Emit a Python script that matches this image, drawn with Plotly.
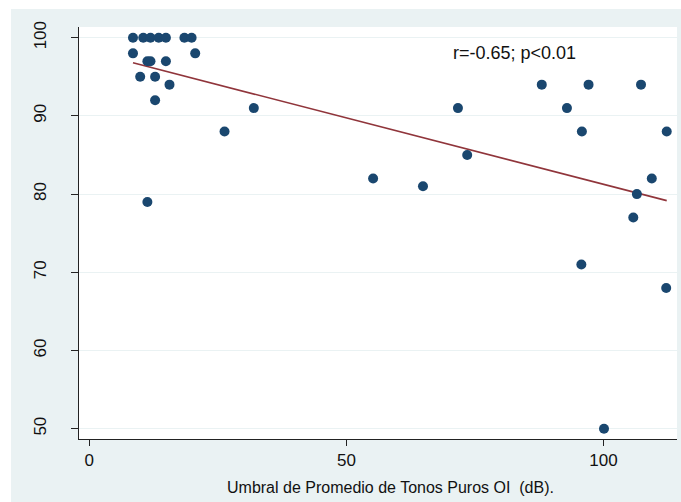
import numpy as np
import plotly.graph_objects as go

# Umbral de Promedio de Tonos Puros OI (dB)
umbral_db = [8.5, 10.5, 11.9, 13.5, 14.9, 18.5, 19.9,
             8.5, 20.6,
             11.3, 11.9, 14.9,
             9.9, 12.8,
             15.6, 12.8, 32.0, 26.3, 11.3,
             55.2, 64.9, 71.7, 73.5,
             88.0, 97.1, 107.3, 92.9, 95.8, 112.3, 109.4, 106.5, 105.8, 95.7, 112.2, 100.1]
puntaje = [100, 100, 100, 100, 100, 100, 100,
           98, 98,
           97, 97, 97,
           95, 95,
           94, 92, 91, 88, 79,
           82, 81, 91, 85,
           94, 94, 94, 91, 88, 88, 82, 80, 77, 71, 68, 50]

x_ticks = [0, 50, 100]
y_ticks = [50, 60, 70, 80, 90, 100]
stat_text = "r=-0.65; p<0.01"
x_title = "Umbral de Promedio de Tonos Puros OI\u00a0\u00a0(dB)."

xa = np.array(umbral_db, dtype=float)
ya = np.array(puntaje, dtype=float)
slope, intercept = np.polyfit(xa, ya, 1)
fit_x = [xa.min(), xa.max()]
fit_y = [intercept + slope * v for v in fit_x]

W, H = 681, 502
ml, mr, mt, mb = 79, 4, 27, 63
pw, ph = W - ml - mr, H - mt - mb

def px2paper_x(px):
    return (px - ml) / pw

def px2paper_y(py):
    return (H - mb - py) / ph

BG = "#EAF2F3"
FONT = "Liberation Sans, Arial, sans-serif"

fig = go.Figure()
fig.add_trace(go.Scatter(
    x=fit_x, y=fit_y, mode="lines",
    line=dict(color="#90353B", width=1.6),
    hoverinfo="skip", showlegend=False))
fig.add_trace(go.Scatter(
    x=umbral_db, y=puntaje, mode="markers",
    marker=dict(color="#1A476F", size=10, line=dict(width=0)),
    showlegend=False))

fig.update_layout(
    width=W, height=H,
    margin=dict(l=ml, r=mr, t=mt, b=mb, pad=0),
    paper_bgcolor=BG, plot_bgcolor="white",
    font=dict(family=FONT, size=17, color="#111"),
    showlegend=False,
    xaxis=dict(range=[-2.0, 114.3], tickvals=x_ticks, ticks="outside",
               ticklen=6, tickwidth=1, tickcolor="#222",
               showline=True, linecolor="#222", linewidth=1,
               showgrid=False, zeroline=False, mirror=False,
               tickfont=dict(size=17, family=FONT, color="#111")),
    yaxis=dict(range=[48.68, 101.37], tickvals=y_ticks, ticks="outside",
               ticklen=7, tickwidth=1, tickcolor="#222", tickangle=-90,
               ticklabelstandoff=18,
               showline=True, linecolor="#222", linewidth=1,
               showgrid=True, gridcolor=BG, gridwidth=1.2,
               zeroline=False, mirror=False,
               tickfont=dict(size=17, family=FONT, color="#111")),
    shapes=[
        dict(type="rect", xref="paper", yref="paper",
             x0=-0.5, x1=1.5, y0=px2paper_y(9), y1=1.5,
             fillcolor="white", line=dict(width=0), layer="below"),
        dict(type="rect", xref="paper", yref="paper",
             x0=-0.5, x1=px2paper_x(11), y0=-0.5, y1=1.5,
             fillcolor="white", line=dict(width=0), layer="below"),
    ],
    annotations=[
        dict(text=stat_text, x=82.6, y=98.0, xref="x", yref="y",
             showarrow=False, xanchor="center", yanchor="middle",
             font=dict(size=18, family=FONT, color="#111")),
        dict(text=x_title, x=px2paper_x(390), y=px2paper_y(487),
             xref="paper", yref="paper", showarrow=False,
             xanchor="center", yanchor="middle",
             font=dict(size=16, family=FONT, color="#111")),
    ],
)

fig.write_html("out.html")
